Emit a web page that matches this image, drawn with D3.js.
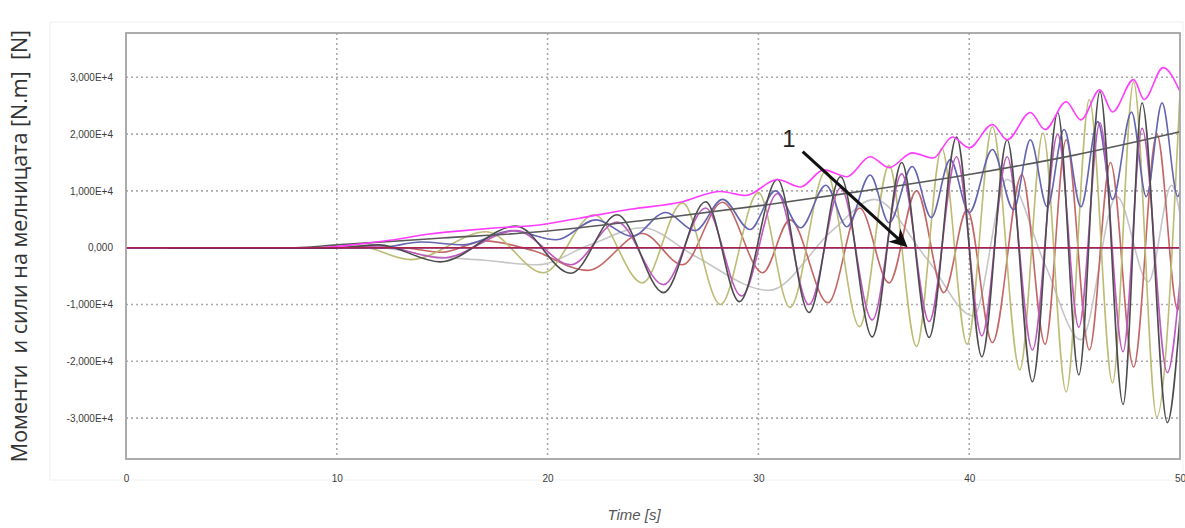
<!DOCTYPE html>
<html>
<head>
<meta charset="utf-8" />
<title>Моменти и сили</title>
<script src="https://cdn.jsdelivr.net/npm/d3@7"></script>
<style>
  body { margin: 0; background: #fff; }
  .tick text { font: 10px "Liberation Sans", sans-serif; fill: #3c3c3c; }
  .grid line { stroke: #aaa; stroke-width: 1.6; stroke-dasharray: 2,3; }
  .series { fill: none; stroke-width: 1.6; stroke-linejoin: round; }
</style>
</head>
<body>
<svg id="chart" width="1185" height="528"></svg>
<script>
// time axis [s]
var xTicks = [0, 10, 20, 30, 40, 50];
// value axis, values are in units of 1e4 (N.m / N)
var yTicks = [-3, -2, -1, 0, 1, 2, 3];
var yTickLabels = ["-3,000E+4", "-2,000E+4", "-1,000E+4", "0,000", "1,000E+4", "2,000E+4", "3,000E+4"];

// each series: [time, value] at the turning points
var lightGray = [[0,0],[12,0],[14.5,-0.15],[17,-0.22],[19.5,-0.3],[22,0.05],[24.5,0.35],[27,-0.15],[30.5,-0.75],[33.5,0.3],[35.5,0.85],[38,-0.2],[40.2,-1.2],[41.8,1.2],[43.6,-0.3],[45.3,-1.62],[47,0.9],[48.5,-0.6],[49.6,1.1],[50,0.6]];
var red = [[0,0],[13,0],[15,-0.08],[17,0.12],[19.3,-0.05],[21.9,-0.4],[24.5,0.25],[26.4,-0.3],[28.3,0.8],[30.2,-0.44],[31.5,0.49],[33.3,-0.97],[34.8,0.7],[36.2,-0.62],[37.5,1.0],[38.8,-0.79],[39.9,0.67],[41.1,-1.67],[42.5,1.29],[43.6,-1.7],[44.6,1.9],[45.7,-1.8],[46.7,1.5],[47.8,-2.1],[48.9,2.0],[49.9,-1.1],[50,-0.9]];
var olive = [[0,0],[9,0],[11,0.03],[13.5,-0.21],[17.1,0.28],[19.8,-0.44],[22.2,0.58],[24.5,-0.62],[26.4,0.79],[28.2,-1.0],[30.0,0.97],[31.5,-1.05],[33.2,1.35],[34.8,-1.39],[36.2,1.45],[37.5,-1.74],[38.7,1.75],[39.9,-1.7],[41.1,2.13],[42.4,-2.15],[43.5,2.02],[44.6,-2.54],[45.7,2.61],[46.8,-2.38],[47.8,2.92],[48.9,-2.98],[50,2.73]];
var blue = [[0,0],[12,0],[14,0.1],[16,0.05],[18.3,0.3],[20.4,0.14],[22.3,0.49],[24.0,0.2],[25.6,0.62],[27.0,0.3],[28.3,0.85],[29.6,0.32],[30.8,1.0],[32.0,0.35],[33.2,1.1],[34.2,0.37],[35.3,1.28],[36.2,0.44],[37.3,1.43],[38.2,0.53],[39.1,1.55],[40.0,0.62],[41.1,1.73],[42.1,0.67],[42.9,1.9],[43.7,0.72],[44.5,2.08],[45.3,0.72],[46.1,2.22],[46.8,0.85],[47.7,2.39],[48.4,0.9],[49.15,2.55],[49.9,0.9],[50,1.0]];
var purple = [[0,0],[10,0],[12,0.03],[15,-0.18],[18.5,0.3],[21.1,-0.3],[23.3,0.45],[25.5,-0.65],[27.5,0.7],[29.2,-0.85],[30.9,0.95],[32.4,-1.0],[33.9,1.05],[35.4,-1.27],[36.8,1.3],[38.1,-1.3],[39.4,1.6],[40.6,-1.55],[41.8,1.6],[43.0,-1.8],[44.2,2.0],[45.2,-1.4],[46.2,2.2],[47.3,-1.83],[48.2,2.1],[49.4,-2.2],[50,-0.6]];
var darkGray = [[0,0],[10,0],[12,0.05],[14.9,-0.25],[18.5,0.38],[21.1,-0.45],[23.3,0.58],[25.5,-0.79],[27.5,0.81],[29.1,-0.95],[30.9,1.2],[32.4,-1.14],[33.9,1.25],[35.4,-1.57],[36.8,1.5],[38.1,-1.58],[39.4,1.95],[40.6,-1.92],[41.8,1.9],[43.0,-2.36],[44.2,2.38],[45.2,-2.24],[46.2,2.75],[47.3,-2.76],[48.2,2.55],[49.4,-3.08],[50,-1.2]];
var trend = [[0,0],[8,0],[10,0.05],[15,0.17],[19.6,0.28],[25,0.5],[30.5,0.76],[35,1.0],[40,1.29],[45,1.63],[50,2.04]];
var magenta = [[0,0],[9,0],[11,0.06],[12.5,0.13],[14.4,0.24],[16,0.3],[17.6,0.35],[19.6,0.4],[21.5,0.52],[24,0.68],[26.3,0.8],[28.2,0.99],[29.4,0.92],[30.9,1.2],[32,1.07],[33.1,1.37],[34.2,1.25],[35.3,1.6],[36.2,1.41],[37.3,1.67],[38.3,1.58],[39.2,1.95],[40.0,1.76],[41.1,2.17],[41.8,1.9],[42.9,2.38],[43.6,2.08],[44.6,2.57],[45.3,2.25],[46.2,2.78],[46.8,2.39],[47.8,2.96],[48.3,2.61],[49.2,3.17],[50,2.75]];
var zeroLine = [[0,0],[50,0]];
var startup = [[2,0],[10,0]];

// annotation "1" with arrow (time, value)
var arrowFrom = [32.1, 1.69];
var arrowTo = [36.95, 0.05];
var noteAt = [31.45, 1.78];

var svg = d3.select("#chart");
var pLeft = 126, pRight = 1180, pTop = 33, pBottom = 459;

var x = d3.scaleLinear().domain([0, 50]).range([pLeft, pRight]);
var y = d3.scaleLinear().domain([-3.72, 3.78]).range([pBottom, pTop]);

// faint outer frame
svg.append("rect")
  .attr("x", 50).attr("y", 22).attr("width", 1133).attr("height", 458)
  .attr("fill", "none").attr("stroke", "#f0f0f0");

// grid
var grid = svg.append("g").attr("class", "grid");
grid.selectAll(".h").data(yTicks).enter().append("line")
  .attr("x1", pLeft).attr("x2", pRight)
  .attr("y1", function (d) { return y(d); }).attr("y2", function (d) { return y(d); });
grid.selectAll(".v").data(xTicks.slice(1, -1)).enter().append("line")
  .attr("y1", pTop).attr("y2", pBottom)
  .attr("x1", function (d) { return x(d); }).attr("x2", function (d) { return x(d); });

// axes (labels only)
svg.append("g")
  .attr("transform", "translate(" + (pLeft - 6) + ",0)")
  .call(d3.axisLeft(y).tickValues(yTicks).tickSize(0).tickPadding(7)
    .tickFormat(function (d, i) { return yTickLabels[i]; }))
  .call(function (g) { g.select(".domain").remove(); });

svg.append("g")
  .attr("transform", "translate(0," + (pBottom + 10) + ")")
  .call(d3.axisBottom(x).tickValues(xTicks).tickSize(0).tickPadding(6).tickFormat(d3.format("d")))
  .call(function (g) { g.select(".domain").remove(); });

// curves
var line = d3.line()
  .x(function (d) { return x(d[0]); })
  .y(function (d) { return y(d[1]); })
  .curve(d3.curveMonotoneX);

var series = [
  { data: lightGray, color: "#c6c6c6", w: 1.8 },
  { data: red, color: "#c46666", w: 1.8 },
  { data: olive, color: "#bcbc74", w: 1.9 },
  { data: blue, color: "#6464b2", w: 1.8 },
  { data: purple, color: "#bf58bf", w: 1.8 },
  { data: darkGray, color: "#4c4c4c", w: 1.9 },
  { data: trend, color: "#595959", w: 1.8 },
  { data: magenta, color: "#ff3cff", w: 2 },
  { data: zeroLine, color: "#3c2c9c", w: 3 },
  { data: startup, color: "#261a5c", w: 4 },
  { data: zeroLine, color: "#b0204c", w: 1.2 }
];

svg.append("g").selectAll("path").data(series).enter().append("path")
  .attr("class", "series")
  .attr("d", function (s) { return line(s.data); })
  .attr("stroke", function (s) { return s.color; })
  .attr("stroke-width", function (s) { return s.w; });

// plot border
svg.append("rect")
  .attr("x", pLeft).attr("y", pTop).attr("width", pRight - pLeft).attr("height", pBottom - pTop)
  .attr("fill", "none").attr("stroke", "#a4a4a4").attr("stroke-width", 1.8);

// annotation
svg.append("defs").append("marker")
  .attr("id", "head").attr("viewBox", "0 0 10 10")
  .attr("refX", 8).attr("refY", 5)
  .attr("markerWidth", 6).attr("markerHeight", 6)
  .attr("orient", "auto")
  .append("path").attr("d", "M0,0 L10,5 L0,10 L3,5 Z").attr("fill", "#111");

svg.append("line")
  .attr("x1", x(arrowFrom[0])).attr("y1", y(arrowFrom[1]))
  .attr("x2", x(arrowTo[0])).attr("y2", y(arrowTo[1]))
  .attr("stroke", "#111").attr("stroke-width", 3)
  .attr("marker-end", "url(#head)");

svg.append("text")
  .attr("x", x(noteAt[0])).attr("y", y(noteAt[1]))
  .attr("text-anchor", "middle")
  .style("font", "24px 'Liberation Sans', sans-serif").style("fill", "#222")
  .text("1");

// axis titles
svg.append("text")
  .attr("transform", "translate(27,246) rotate(-90)")
  .attr("text-anchor", "middle")
  .style("font", "21.5px 'Open Sans', sans-serif").style("fill", "#333")
  .style("white-space", "pre")
  .text("Моменти  и сили на мелницата [N.m]  [N]");

svg.append("text")
  .attr("x", 634).attr("y", 520)
  .attr("text-anchor", "middle")
  .style("font", "italic 15px 'Liberation Sans Narrow', 'Liberation Sans', sans-serif").style("fill", "#555")
  .text("Time [s]");
</script>
</body>
</html>
